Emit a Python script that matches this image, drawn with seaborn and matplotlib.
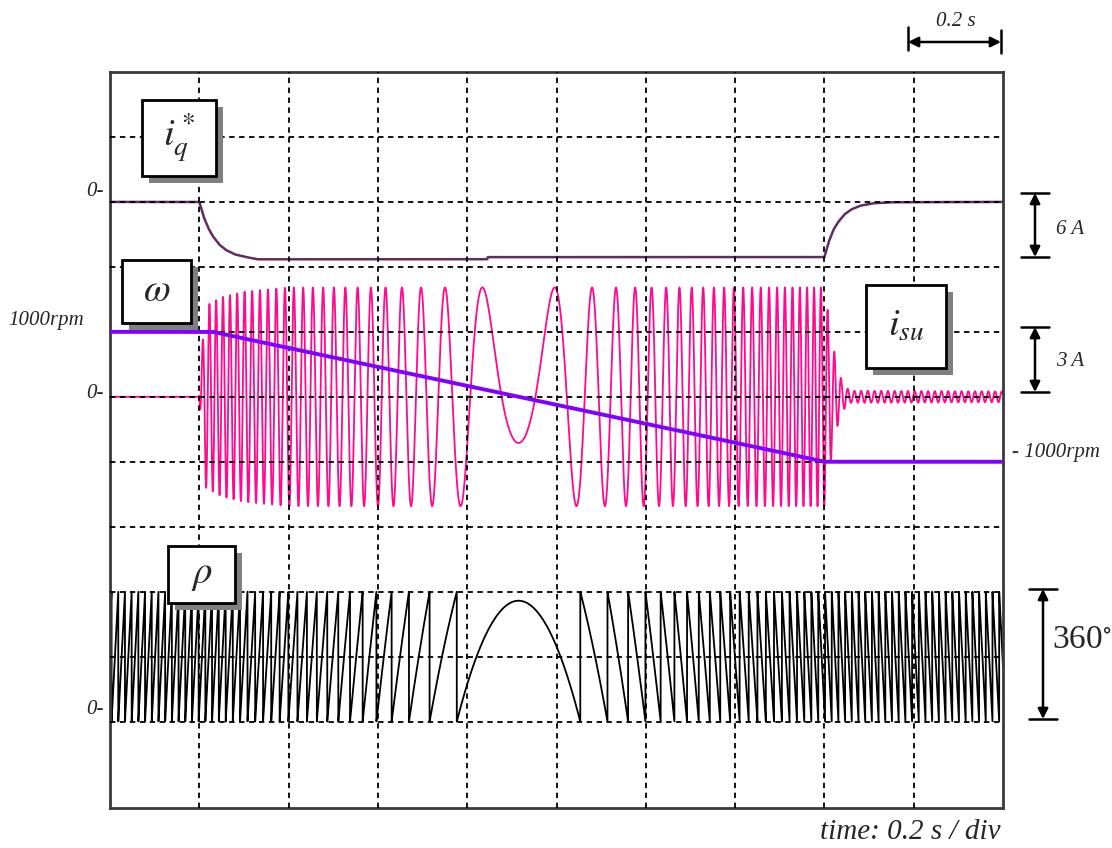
import numpy as np
import matplotlib
matplotlib.use("Agg")
import matplotlib.pyplot as plt
import seaborn as sns
from matplotlib.patches import Rectangle

# --- values ---
# speed reference (rpm)
speed_t = [0.0, 0.23, 1.60, 2.0]
speed_rpm = [1000, 1000, -1000, -1000]
pole_pairs = 4
rho_peak_deg = 335          # rotor angle where the speed crosses zero

# q-axis current command (A)
iq_t = [0.0, 0.2, 0.21, 0.22, 0.23, 0.245, 0.26, 0.28, 0.30, 0.33, 0.845, 0.846,
        1.60, 1.61, 1.62, 1.63, 1.645, 1.66, 1.68, 1.71, 1.75, 2.0]
iq_amp = [0.0, 0.0, -1.4, -2.4, -3.15, -3.95, -4.45, -4.85, -5.05, -5.3, -5.3, -5.1,
          -5.1, -3.65, -2.6, -1.9, -1.15, -0.7, -0.35, -0.12, -0.03, 0.0]

# phase current envelope (A)
isu_t = [0.0, 0.2, 0.205, 0.215, 0.25, 0.30, 0.40, 1.60, 1.61, 1.62, 1.63,
         1.64, 1.65, 1.66, 2.0]
isu_env = [0.0, 0.0, 2.0, 4.2, 4.6, 4.85, 5.05, 5.05, 3.6, 2.3, 1.3,
           0.7, 0.4, 0.28, 0.25]
isu_phase = -130

# scope scaling: (zero line in divisions, units per division)
iq_scale = (8, 6.0)
w_scale = (5, 1000.0)
isu_scale = (5, 3.0)
rho_scale = (0, 180.0)

t = np.linspace(0, 2, 40001)
dt = t[1] - t[0]
w = np.interp(t, speed_t, speed_rpm)
theta = np.cumsum(w / 60 * 360 * pole_pairs) * dt
theta = theta + rho_peak_deg - theta.max()
rho = np.mod(theta, 360)
isu = np.interp(t, isu_t, isu_env) * np.sin(np.deg2rad(theta + isu_phase))
iq = np.interp(t, iq_t, iq_amp)

sns.set_style("white")
plt.rcParams['font.family'] = ['Liberation Serif', 'DejaVu Serif']
plt.rcParams['mathtext.fontset'] = 'stix'

W, H = 1112, 848
fig = plt.figure(figsize=(W / 100, H / 100), dpi=100)
ax = fig.add_axes([110 / W, 1 - 808 / H, 893 / W, 736 / H])

sns.lineplot(x=t, y=rho / rho_scale[1] + rho_scale[0], ax=ax, color='black',
             lw=1.3, estimator=None, sort=False, zorder=2)
sns.lineplot(x=t, y=isu / isu_scale[1] + isu_scale[0], ax=ax, color='#ff0a8c',
             lw=1.3, estimator=None, sort=False, zorder=2)
sns.lineplot(x=t, y=iq / iq_scale[1] + iq_scale[0], ax=ax, color='#5e2e5e',
             lw=1.8, estimator=None, sort=False, zorder=2)
sns.lineplot(x=t, y=w / w_scale[1] + w_scale[0], ax=ax, color='#8000ff',
             lw=2.8, estimator=None, sort=False, zorder=3)

ax.set_xlim(0, 2)
ax.set_ylim(-1.33, 10.0)
ax.set_xticks(np.arange(0.2, 1.9, 0.2))
ax.set_yticks(range(0, 10))
ax.tick_params(length=0, labelbottom=False, labelleft=False)
ax.set_axisbelow(False)
ax.grid(True, color='black', ls=(0, (3, 2.5)), lw=1.3)
ax.set_xlabel('')
ax.set_ylabel('')
for s in ax.spines.values():
    s.set_linewidth(2.0)
    s.set_color('#3a3a3a')


def fp(x, y):
    return (x / W, 1 - y / H)


# labelled boxes with drop shadow
boxes = [((142, 100, 216, 176), r'$i_q^*$'),
         ((122, 260, 191, 323), r'$\omega$'),
         ((866, 285, 946, 368), r'$i_{su}$'),
         ((168, 546, 235, 603), r'$\rho$')]
for (x0, y0, x1, y1), lab in boxes:
    bw, bh = (x1 - x0) / W, (y1 - y0) / H
    fig.patches.append(Rectangle(fp(x0 + 7, y1 + 7), bw, bh, transform=fig.transFigure,
                                 facecolor='#808080', edgecolor='none', zorder=5))
    fig.patches.append(Rectangle(fp(x0, y1), bw, bh, transform=fig.transFigure,
                                 facecolor='white', edgecolor='black', lw=2, zorder=6))
    fig.text(*fp((x0 + x1) / 2, (y0 + y1) / 2), lab, fontsize=28, ha='center',
             va='center', zorder=7)

# left side levels
lbl = dict(fontsize=15, style='italic', va='center')
fig.text(*fp(104, 192), '0-', ha='right', **lbl)
fig.text(*fp(8, 320), '1000rpm', ha='left', **lbl)
fig.text(*fp(104, 393), '0-', ha='right', **lbl)
fig.text(*fp(104, 710), '0-', ha='right', **lbl)
fig.text(*fp(1012, 452), '- 1000rpm', ha='left', **lbl)


def vbar(x, y0, y1, half=14):
    for yy in (y0, y1):
        fig.add_artist(plt.Line2D([(x - half) / W, (x + half) / W], [1 - yy / H] * 2,
                                  transform=fig.transFigure, color='black', lw=1.8))
    ax.annotate('', xy=fp(x, y1), xytext=fp(x, y0), xycoords='figure fraction',
                textcoords='figure fraction', annotation_clip=False,
                arrowprops=dict(arrowstyle='<|-|>', color='black', lw=1.8,
                                mutation_scale=15, shrinkA=0, shrinkB=0))


vbar(1035, 193, 257)
fig.text(*fp(1056, 229), '6 A', ha='left', **lbl)
vbar(1035, 327, 392)
fig.text(*fp(1056, 362), '3 A', ha='left', **lbl)
vbar(1043, 589, 719)
fig.text(*fp(1052, 640), '360$^{\\circ}$', ha='left', va='center', fontsize=24)

# time scale marker on top
for xx, ya, yb in ((908, 27, 50), (1001, 30, 53)):
    fig.add_artist(plt.Line2D([xx / W] * 2, [1 - ya / H, 1 - yb / H],
                              transform=fig.transFigure, color='black', lw=1.8))
ax.annotate('', xy=fp(1001, 42), xytext=fp(908, 42), xycoords='figure fraction',
            textcoords='figure fraction', annotation_clip=False,
            arrowprops=dict(arrowstyle='<|-|>', color='black', lw=1.8,
                            mutation_scale=15, shrinkA=0, shrinkB=0))
fig.text(*fp(956, 22), '0.2 s', ha='center', **lbl)
fig.text(*fp(1000, 832), 'time: 0.2 s / div', ha='right', va='center',
         fontsize=21, style='italic')

plt.savefig('out.png', dpi=100)
